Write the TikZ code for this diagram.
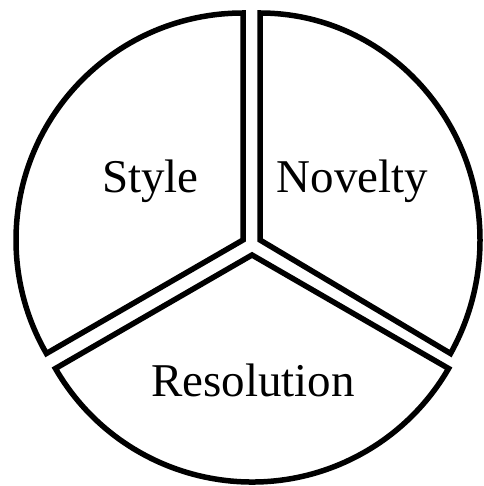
\documentclass[tikz,border=0pt]{standalone}
\usepackage{fontspec}
\setmainfont{Liberation Serif}
\begin{document}
\begin{tikzpicture}[x=1pt, y=1pt,
    sector/.style={draw=black, line width=5.5pt},
    sectorlabel/.style={font=\fontsize{47}{47}\selectfont, anchor=base}]
    \useasboundingbox (0,0) rectangle (483,486);
    % apexes of the three pieces, pulled apart from the centre
    \coordinate (styleapex) at (243,246);
    \coordinate (noveltyapex) at (260,246);
    \coordinate (resapex) at (252,231);

    %, Style ---
    \draw[sector] (styleapex) -- ++(90:227)
        arc[start angle=90, end angle=210, radius=227] -- cycle;
    %, Novelty ---
    \draw[sector] (noveltyapex) -- ++(90:227)
        arc[start angle=90, end angle=-30, x radius=220, y radius=227] -- cycle;
    %, Resolution ---
    \draw[sector] (resapex) -- ++(210:227)
        arc[start angle=210, end angle=330, radius=227] -- cycle;

    \node[sectorlabel] (style) at (150.5,293) {Style};
    \node[sectorlabel] (novelty) at (352.5,293) {Novelty};
    \node[sectorlabel] (resolution) at (253,89) {Resolution};
\end{tikzpicture}
\end{document}
